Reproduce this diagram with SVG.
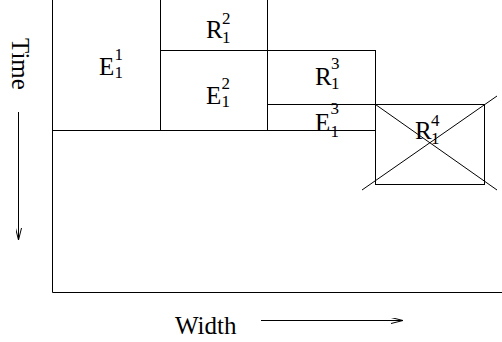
<svg xmlns="http://www.w3.org/2000/svg" width="502" height="342" viewBox="0 0 502 342">
  <style>
    .ln { fill: none; stroke: #000; stroke-width: 1; }
    .main { font-family: "Liberation Serif", "Times New Roman", serif; font-size: 25px; fill: #000; }
    .scr { font-family: "Liberation Serif", "Times New Roman", serif; font-size: 17px; fill: #000; }
    .axis { font-family: "Liberation Serif", "Times New Roman", serif; font-size: 25px; fill: #000; }
  </style>
  <defs>
    <marker id="open-head" viewBox="0 0 12 6" refX="12" refY="3" markerWidth="12" markerHeight="6" markerUnits="userSpaceOnUse" orient="auto">
      <path d="M0,0 L12,3 L0,6" fill="none" stroke="#000" stroke-width="1"/>
    </marker>
  </defs>

  <rect width="502" height="342" fill="#fff"/>

  <!-- outer frame: time axis down the left, width along the bottom -->
  <g id="frame">
    <path class="ln" d="M52.5,0 V292.5 H502"/>
    <path class="ln" d="M52.5,130.5 H375.5"/>
  </g>

  <g id="E1_1">
    <path class="ln" d="M160.5,0 V130.5"/>
    <text class="main" x="99" y="75">E</text>
    <text class="scr" x="114.5" y="60">1</text>
    <text class="scr" x="114.5" y="78">1</text>
  </g>

  <g id="R1_2">
    <path class="ln" d="M160.5,50.5 H267.5 M267.5,0 V130.5"/>
    <text class="main" x="206" y="38">R</text>
    <text class="scr" x="222" y="24">2</text>
    <text class="scr" x="222" y="43">1</text>
  </g>

  <g id="E1_2">
    <text class="main" x="206" y="104">E</text>
    <text class="scr" x="221.5" y="89">2</text>
    <text class="scr" x="221.5" y="107">1</text>
  </g>

  <g id="R1_3">
    <rect class="ln" x="267.5" y="50.5" width="108" height="54"/>
    <text class="main" x="315" y="85">R</text>
    <text class="scr" x="331" y="69">3</text>
    <text class="scr" x="331" y="89">1</text>
  </g>

  <g id="E1_3">
    <path class="ln" d="M375.5,104.5 V130.5"/>
    <text class="main" x="315" y="131">E</text>
    <text class="scr" x="330.5" y="114">3</text>
    <text class="scr" x="330.5" y="137">1</text>
  </g>

  <g id="R1_4">
    <rect class="ln" x="375.5" y="104.5" width="109" height="80"/>
    <path class="ln" d="M375.5,104.5 L497,190 M497,96 L362,190"/>
    <text class="main" x="415" y="139">R</text>
    <text class="scr" x="431" y="126">4</text>
    <text class="scr" x="431" y="144">1</text>
  </g>

  <!-- axis labels and direction arrows -->
  <g id="axes">
    <text class="axis" transform="translate(12,38) rotate(90)">Time</text>
    <path class="ln" d="M18.5,112 V240" marker-end="url(#open-head)"/>
    <text class="axis" x="175" y="334">Width</text>
    <path class="ln" d="M261,320.5 H403" marker-end="url(#open-head)"/>
  </g>
</svg>
